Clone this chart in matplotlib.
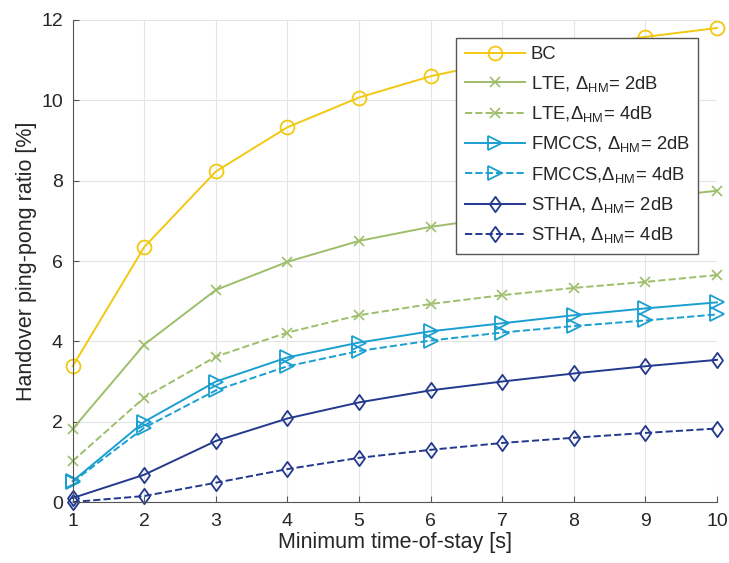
import matplotlib
matplotlib.use("Agg")
import matplotlib.pyplot as plt
from matplotlib.path import Path

plt.rcParams['font.family'] = ['Liberation Sans', 'DejaVu Sans']
plt.rcParams['mathtext.fontset'] = 'custom'
plt.rcParams['mathtext.rm'] = 'Liberation Sans'
plt.rcParams['mathtext.it'] = 'Liberation Sans'

x = [1, 2, 3, 4, 5, 6, 7, 8, 9, 10]
bc = [3.38, 6.35, 8.23, 9.33, 10.07, 10.6, 10.98, 11.3, 11.58, 11.8]
lte2 = [1.82, 3.92, 5.28, 5.98, 6.5, 6.85, 7.1, 7.35, 7.55, 7.75]
lte4 = [1.02, 2.6, 3.62, 4.22, 4.65, 4.93, 5.15, 5.33, 5.48, 5.65]
fm2 = [0.52, 2.0, 3.0, 3.6, 3.97, 4.25, 4.45, 4.65, 4.82, 4.97]
fm4 = [0.5, 1.85, 2.78, 3.38, 3.76, 4.02, 4.22, 4.38, 4.52, 4.67]
st2 = [0.1, 0.68, 1.52, 2.08, 2.48, 2.78, 3.0, 3.2, 3.38, 3.54]
st4 = [0.0, 0.15, 0.48, 0.82, 1.1, 1.3, 1.47, 1.6, 1.72, 1.83]

labels = ['BC',
          r'LTE, $\Delta_{\mathrm{HM}}$= 2dB',
          r'LTE,$\Delta_{\mathrm{HM}}$= 4dB',
          r'FMCCS, $\Delta_{\mathrm{HM}}$= 2dB',
          r'FMCCS,$\Delta_{\mathrm{HM}}$= 4dB',
          r'STHA, $\Delta_{\mathrm{HM}}$= 2dB',
          r'STHA, $\Delta_{\mathrm{HM}}$= 4dB']

yellow = '#F2C811'
green = '#9DBE6A'
cyan = '#1A9FD0'
navy = '#23398E'

diamond = Path([(0, 1), (0.72, 0), (0, -1), (-0.72, 0), (0, 1)],
               [Path.MOVETO, Path.LINETO, Path.LINETO, Path.LINETO, Path.CLOSEPOLY])

fig = plt.figure(figsize=(7.29, 5.63), dpi=100)
ax = fig.add_axes([0.0997, 0.1083, 0.8838, 0.8562])

lw = 1.4
ms = 10
kw = dict(lw=lw, clip_on=False)
ax.plot(x, bc, '-', color=yellow, marker='o', ms=ms, mfc='none', mew=1.3, label=labels[0], **kw)
ax.plot(x, lte2, '-', color=green, marker='x', ms=7, mew=1.2, label=labels[1], **kw)
ax.plot(x, lte4, '--', color=green, marker='x', ms=7, mew=1.2, label=labels[2], **kw)
ax.plot(x, fm2, '-', color=cyan, marker='>', ms=ms, mfc='none', mew=1.3, label=labels[3], **kw)
ax.plot(x, fm4, '--', color=cyan, marker='>', ms=ms, mfc='none', mew=1.3, label=labels[4], **kw)
ax.plot(x, st2, '-', color=navy, marker=diamond, ms=ms + 1, mfc='none', mew=1.3, label=labels[5], **kw)
ax.plot(x, st4, '--', color=navy, marker=diamond, ms=ms + 1, mfc='none', mew=1.3, label=labels[6], **kw)

ax.set_xlim(1, 10)
ax.set_ylim(0, 12)
ax.set_xticks(x)
ax.set_yticks([0, 2, 4, 6, 8, 10, 12])
ax.grid(True, color='#e5e5e5', lw=0.8)
ax.set_axisbelow(True)
for s in ['top', 'right']:
    ax.spines[s].set_visible(False)
for s in ['left', 'bottom']:
    ax.spines[s].set_color('#555555')
ax.tick_params(direction='in', length=4, colors='#555555', labelsize=14, labelcolor='#262626')
ax.tick_params(axis='x', pad=8)
ax.tick_params(axis='y', pad=7)
ax.set_xlabel('Minimum time-of-stay [s]', fontsize=15.5, color='#262626', labelpad=1)
ax.set_ylabel('Handover ping-pong ratio [%]', fontsize=15.5, color='#262626', labelpad=3)

leg = ax.legend(loc='upper right', bbox_to_anchor=(0.9705, 0.9627), borderaxespad=0,
                fontsize=13.3, fancybox=False, framealpha=1, edgecolor='#555555',
                handlelength=3.25, handletextpad=0.32, labelspacing=0.56, borderpad=0.45)
leg.get_frame().set_linewidth(1.0)
for t in leg.get_texts():
    t.set_color('#262626')

fig.savefig('out.png', dpi=100)
